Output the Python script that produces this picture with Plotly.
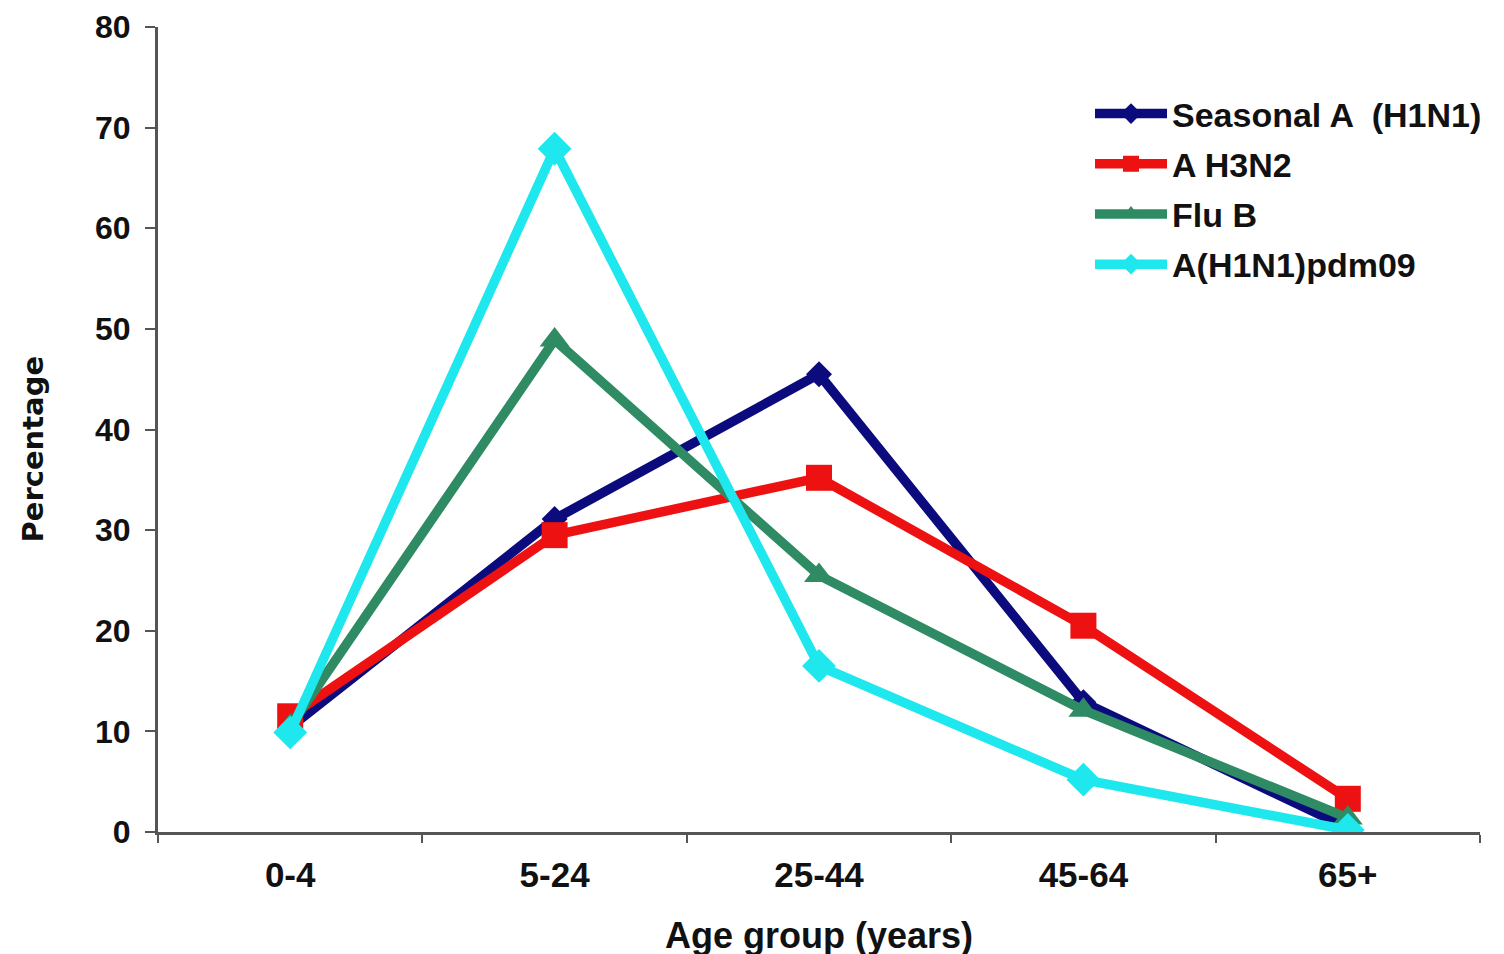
import plotly.graph_objects as go

age_groups = ["0-4", "5-24", "25-44", "45-64", "65+"]
seasonal_h1n1 = [10.4, 31.1, 45.5, 12.9, 0.4]
a_h3n2 = [11.5, 29.5, 35.2, 20.5, 3.3]
flu_b = [10.5, 48.9, 25.5, 12.1, 1.4]
pdm09 = [9.9, 67.9, 16.5, 5.2, 0.2]
y_ticks = [0, 10, 20, 30, 40, 50, 60, 70, 80]

series = [
    ("Seasonal A  (H1N1)", seasonal_h1n1, "#0b0b7d", "diamond", 20),
    ("A H3N2", a_h3n2, "#ee1111", "square", 26),
    ("Flu B", flu_b, "#2e8b63", "triangle-up", 26),
    ("A(H1N1)pdm09", pdm09, "#1ee8ee", "diamond", 26),
]

fig = go.Figure()
for i, (name, vals, col, sym, sz) in enumerate(series):
    fig.add_trace(go.Scatter(
        x=age_groups, y=vals, name=name, mode="lines+markers",
        legendgroup=f"g{i}",
        line=dict(color=col, width=9.5),
        marker=dict(symbol=sym, size=sz, color=col, line=dict(width=0)),
    ))

font_main = "Liberation Sans, Arial, sans-serif"
fig.update_layout(
    width=1504, height=954,
    paper_bgcolor="white", plot_bgcolor="white",
    margin=dict(l=150, r=32, t=19, b=130, autoexpand=False),
    font=dict(family=font_main, color="#111111"),
    showlegend=True,
    legend=dict(
        x=0.705, y=0.928, xanchor="left", yanchor="top",
        font=dict(size=34, family=font_main, color="#111111", weight="bold"),
        bgcolor="rgba(0,0,0,0)", tracegroupgap=3, itemwidth=72,
    ),
    xaxis=dict(
        type="category", range=[-0.5, 4.5], automargin=False,
        tickson="boundaries", ticks="outside", ticklen=8, tickwidth=2, tickcolor="#555555",
        showline=True, linecolor="#555555", linewidth=3, showgrid=False, zeroline=False,
        ticklabelstandoff=10,
        tickfont=dict(size=35, family=font_main, weight="bold", color="#111111"),
        title=dict(text="Age group (years)", standoff=30,
                   font=dict(size=36, family=font_main, weight="bold", color="#111111")),
    ),
    yaxis=dict(
        range=[0, 80], tickvals=y_ticks, automargin=False,
        ticks="outside", ticklen=10, tickwidth=2, tickcolor="#555555",
        showline=True, linecolor="#555555", linewidth=3, showgrid=False, zeroline=False,
        ticklabelstandoff=8,
        tickfont=dict(size=32, family=font_main, weight="bold", color="#111111"),
    ),
    annotations=[dict(
        text="Percentage", textangle=-90, showarrow=False,
        xref="paper", yref="paper", x=0, y=0.5, xanchor="center", yanchor="middle",
        xshift=-126, yshift=-20,
        font=dict(size=29, family="DejaVu Sans, sans-serif", weight="bold", color="#111111"),
    )],
)

fig.write_html("out.html")
